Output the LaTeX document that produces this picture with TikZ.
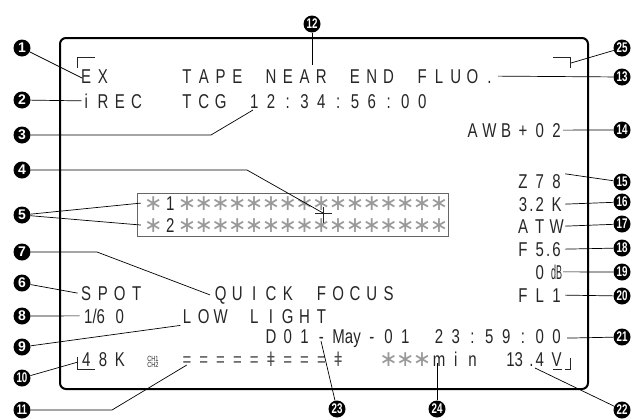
\documentclass[tikz,border=0pt]{standalone}
\usepackage{fontspec}
\usepackage{graphicx}
\setmainfont{Liberation Sans}
\newfontfamily\osdfont[FakeStretch=0.75]{Liberation Sans}
\newfontfamily\starfont[Scale=1.1]{DejaVu Sans}
\newfontfamily\markfont{Liberation Sans}
\newfontfamily\markfontnarrow[FakeStretch=0.7]{Liberation Sans}
\newlength\osdpitch
\setlength\osdpitch{16.8pt}
% one character per cell, like the camera's screen
\ExplSyntaxOn
\NewDocumentCommand \osd { m }
  {
    \str_map_inline:nn { #1 }
      {
        \str_if_eq:nnTF { ##1 } { ∗ }
          { \makebox [ \osdpitch ] { \color { black!40 } \starfont ∗ } }
          { \makebox [ \osdpitch ] { ##1 } }
      }
  }
\ExplSyntaxOff

\begin{document}
\begin{tikzpicture}[x=1pt, y=-1pt, node distance=20pt]
    % Styles
    \tikzstyle{osd} = [inner sep=0pt, anchor=base west, text=black!85, font=\osdfont\fontsize{20}{22}\selectfont]
    \tikzstyle{marker} = [circle, fill=black, text=white, inner sep=0pt, minimum size=17pt, font=\markfont\bfseries\fontsize{14}{14}\selectfont]
    \tikzstyle{marker2} = [marker, font=\markfontnarrow\bfseries\fontsize{14}{14}\selectfont]
    \tikzstyle{leader} = [line width=0.7pt, black]
    \tikzstyle{cornerline} = [line width=0.8pt, black!85]

    \useasboundingbox (0,0) rectangle (631,418);

    % Screen
    \draw [line width=2pt, rounded corners=6pt] (60,38) rectangle (588,389);
    \draw [cornerline] (77.6,68) -- (77.6,57) -- (95,57);
    \draw [cornerline] (553,57) -- (570,57) -- (570,68);
    \draw [cornerline] (77.6,357) -- (77.6,369) -- (95,369);
    \draw [cornerline] (565,369) -- (570,369) -- (570,358);
    \draw [cornerline] (553,369) -- (562,369);

    % Screen texts
    \node [osd] (ex) at (77.6,83) {\osd{EX}};
    \node [osd] (tape) at (178.4,83) {\osd{TAPE NEAR END FLUO.}};
    \node [osd] (irec) at (77.6,108) {\osd{iREC}};
    \node [osd] (tcg) at (178.4,108) {\osd{TCG 12:34:56:00}};
    \node [osd] (awb) at (464,137) {\osd{AWB+02}};
    \node [osd] (zoom) at (514.4,188) {\osd{Z78}};
    \node [osd] (kelvin) at (514.4,211) {\osd{3}\makebox[0pt]{.}\osd{2K}};
    \node [osd] (atw) at (514.4,233) {\osd{ATW}};
    \node [osd] (iris) at (514.4,256) {\osd{F5}\makebox[0pt]{.}\osd{6}};
    \node [osd] (gain) at (531.2,279) {\osd{0}\makebox[\osdpitch]{\scalebox{0.6}[1]{dB}}};
    \node [osd] (filter) at (514.4,302) {\osd{FL1}};
    \node [osd] (zebra1) at (144.8,210) {\osd{∗1∗∗∗∗∗∗∗∗∗∗∗∗∗∗∗∗}};
    \node [osd] (zebra2) at (144.8,232) {\osd{∗2∗∗∗∗∗∗∗∗∗∗∗∗∗∗∗∗}};
    \draw [black!60, line width=0.8pt] (137,193) rectangle (448,236);
    \node [osd] (spot) at (77.6,300) {\osd{SPOT}};
    \node [osd] (qfocus) at (212,300) {\osd{QUICK FOCUS}};
    \node [osd] (shutter) at (77.6,323) {\makebox[2\osdpitch]{1/6}\osd{0}};
    \node [osd] (lowlight) at (178.4,323) {\osd{LOW LIGHT}};
    \node [osd] (date) at (262.4,343) {\osd{D01-}\makebox[2\osdpitch]{May}\osd{-01 23:59:00}};
    \node [osd] (audio) at (77.6,366) {\osd{48K}};
    \node [inner sep=0pt, align=center, text=black!85, font=\osdfont\fontsize{7.5}{6.3}\selectfont] (ch) at (153,362) {CH1\\CH2};
    \node [osd, text=black!70] (meter) at (178.4,366) {\osd{=====ǂ===ǂ}};
    \node [osd] (remain) at (380,366) {\osd{∗∗∗min}\hspace{\osdpitch}\makebox[2\osdpitch]{13}\makebox[0pt]{.}\osd{4V}};

    % Cursor
    \coordinate (cursor) at (323,213);
    \draw [cornerline] ([xshift=-8pt]cursor) -- ([xshift=9pt]cursor) ([yshift=6pt]cursor) -- ([yshift=-10pt]cursor);

    % Markers
    \node [marker] (m1) at (22,48) {1};
    \node [marker, below of=m1, node distance=52pt] (m2) {2};
    \node [marker, below of=m2, node distance=35pt] (m3) {3};
    \node [marker, below of=m3, node distance=35pt] (m4) {4};
    \node [marker, below of=m4, node distance=45pt] (m5) {5};
    \node [marker, below of=m5, node distance=37pt] (m7) {7};
    \node [marker, below of=m7, node distance=31pt] (m6) {6};
    \node [marker, below of=m6, node distance=33pt] (m8) {8};
    \node [marker, below of=m8, node distance=31pt] (m9) {9};
    \node [marker2, below of=m9, node distance=31pt] (m10) {10};
    \node [marker2, below of=m10, node distance=32pt] (m11) {11};
    \node [marker2] (m12) at (312,24) {12};
    \node [marker2] (m25) at (622,48) {25};
    \node [marker2, below of=m25, node distance=29pt] (m13) {13};
    \node [marker2, below of=m13, node distance=53pt] (m14) {14};
    \node [marker2, below of=m14, node distance=52pt] (m15) {15};
    \node [marker2, below of=m15] (m16) {16};
    \node [marker2, below of=m16, node distance=22pt] (m17) {17};
    \node [marker2, below of=m17, node distance=24pt] (m18) {18};
    \node [marker2, below of=m18, node distance=24pt] (m19) {19};
    \node [marker2, below of=m19, node distance=24pt] (m20) {20};
    \node [marker2, below of=m20, node distance=41pt] (m21) {21};
    \node [marker2, below of=m21, node distance=73pt] (m22) {22};
    \node [marker2] (m23) at (337,409) {23};
    \node [marker2] (m24) at (437,409) {24};

    % Leader ends
    \coordinate (ex-e) at (82,78);
    \coordinate (tc-e) at (253,110);
    \coordinate (near-e) at (312,65);
    \coordinate (corner-e) at (571,63);
    \coordinate (volt-e) at (535,368);
    \coordinate (dash-e) at (321,341);
    \coordinate (min-e) at (437,363);

    % Leaders
    \draw [leader] (m1) -- (ex-e);
    \draw [leader] (m2) -- ([xshift=4pt]irec.west);
    \draw [leader] (m3) -- ++(189,0) -- (tc-e);
    \draw [leader] (m4) -- ++(225,0) -- (cursor);
    \draw [leader] (m5) -- ([xshift=-4pt]zebra1.west) (m5) -- ([xshift=-4pt]zebra2.west);
    \draw [leader] (m6) -- (spot.west);
    \draw [leader] (m7) -- ++(75,0) -- ([xshift=-2pt]qfocus.west);
    \draw [leader] (m8) -- ([xshift=2pt]shutter.west);
    \draw [leader] (m9) -- ([xshift=2pt,yshift=-2pt]lowlight.south west);
    \draw [leader] (m10) -- ([yshift=-3pt]audio.west);
    \draw [leader] (m11) -- ++(90,0) -- ([xshift=8.4pt,yshift=1pt]meter.base west);
    \draw [leader] (m12) -- (near-e);
    \draw [leader] (m13) -- (tape.east);
    \draw [leader] (m25) -- (corner-e);
    \draw [leader] (m14) -- ([xshift=-2pt]awb.east);
    \draw [leader] (m15) -- (zoom.north east);
    \draw [leader] (m16) -- (kelvin.east);
    \draw [leader] (m17) -- (atw.east);
    \draw [leader] (m18) -- (iris.east);
    \draw [leader] (m19) -- ([xshift=-2pt]gain.east);
    \draw [leader] (m20) -- (filter.east);
    \draw [leader] (m21) -- ([xshift=2pt]date.east);
    \draw [leader] (m22) -- (volt-e);
    \draw [leader] (m23) -- (dash-e);
    \draw [leader] (m24) -- (min-e);
\end{tikzpicture}
\end{document}
